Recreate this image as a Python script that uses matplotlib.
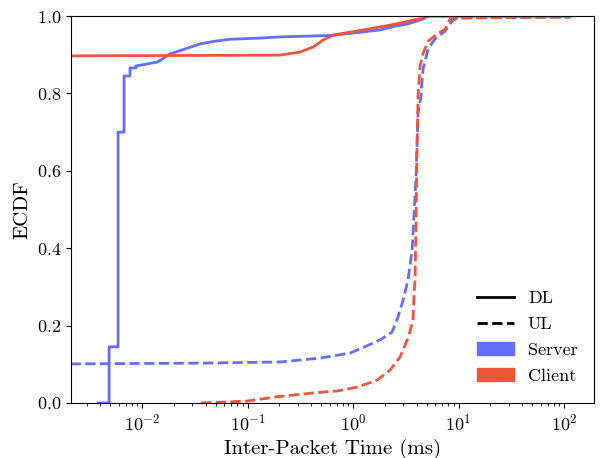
import matplotlib

matplotlib.use("Agg")
import matplotlib.pyplot as plt
from matplotlib.lines import Line2D
from matplotlib.patches import Patch

plt.rcParams["font.family"] = "serif"
plt.rcParams["font.serif"] = ["cmr10", "DejaVu Serif"]
plt.rcParams["mathtext.fontset"] = "cm"
plt.rcParams["axes.unicode_minus"] = False
plt.rcParams["axes.formatter.use_mathtext"] = True

SERVER_COLOR = "#636efa"
CLIENT_COLOR = "#ef553b"

# ECDF curves (inter-packet time in ms, cumulative fraction)
server_dl_x = [0.00383, 0.00487, 0.00487, 0.00592, 0.00592, 0.00675, 0.00675, 0.00769, 0.00769, 0.00877,
               0.00877, 0.0139, 0.0148, 0.0184, 0.0256, 0.0355, 0.0492, 0.0683, 0.131, 0.203,
               0.646, 1.244, 1.80, 2.50, 3.25, 4.61, 5.14, 114.0]
server_dl_y = [0.0, 0.0, 0.145, 0.145, 0.700, 0.700, 0.845, 0.845, 0.866, 0.866,
               0.871, 0.881, 0.885, 0.902, 0.915, 0.928, 0.935, 0.940, 0.943, 0.946,
               0.950, 0.959, 0.964, 0.974, 0.979, 0.992, 1.0, 1.0]

client_dl_x = [0.0021, 0.203, 0.315, 0.418, 0.520, 0.646, 1.244, 2.50, 4.61, 5.14, 114.0]
client_dl_y = [0.897, 0.899, 0.907, 0.920, 0.938, 0.951, 0.964, 0.979, 0.995, 1.0, 1.0]

server_ul_x = [0.0021, 0.0355, 0.203, 0.487, 0.937, 1.165, 1.80, 2.34, 2.67, 2.98,
               3.32, 3.63, 3.79, 3.96, 4.13, 4.41, 4.51, 4.61, 5.14, 5.99,
               7.45, 8.68, 9.68, 114.0]
server_ul_y = [0.101, 0.103, 0.106, 0.116, 0.129, 0.140, 0.163, 0.183, 0.222, 0.266,
               0.318, 0.395, 0.491, 0.594, 0.750, 0.793, 0.835, 0.863, 0.915, 0.941,
               0.961, 0.987, 0.995, 0.997]

client_ul_x = [0.0362, 0.0989, 0.190, 0.418, 0.705, 1.09, 1.69, 2.24, 2.79, 3.32,
               3.70, 3.79, 3.87, 3.96, 4.04, 4.13, 4.32, 4.61, 5.14, 6.25,
               7.45, 8.30, 9.27, 114.0]
client_ul_y = [0.0, 0.005, 0.016, 0.026, 0.031, 0.041, 0.059, 0.085, 0.119, 0.168,
               0.214, 0.284, 0.318, 0.490, 0.660, 0.793, 0.871, 0.904, 0.935, 0.953,
               0.966, 0.992, 0.995, 0.998]

fig = plt.figure(figsize=(6.03, 4.58), dpi=100)
ax = fig.add_axes([0.1177, 0.1201, 0.8673, 0.8449])

ax.plot(server_dl_x, server_dl_y, color=SERVER_COLOR, linewidth=2)
ax.plot(client_dl_x, client_dl_y, color=CLIENT_COLOR, linewidth=2)
ax.plot(server_ul_x, server_ul_y, color=SERVER_COLOR, linewidth=2, linestyle="--")
ax.plot(client_ul_x, client_ul_y, color=CLIENT_COLOR, linewidth=2, linestyle="--")

ax.set_xscale("log")
ax.set_xlim(0.00212, 192)
ax.set_ylim(0.0, 1.0)
ax.set_xlabel("Inter-Packet Time (ms)", fontsize=15)
ax.set_ylabel("ECDF", fontsize=15)
ax.tick_params(labelsize=13)

handles = [
    Line2D([], [], color="black", linewidth=2, label="DL"),
    Line2D([], [], color="black", linewidth=2, linestyle="--", label="UL"),
    Patch(color=SERVER_COLOR, label="Server"),
    Patch(color=CLIENT_COLOR, label="Client"),
]
ax.legend(handles=handles, loc="lower right", frameon=False, fontsize=13,
          labelspacing=0.56, bbox_to_anchor=(1.0, 0.008))

fig.savefig("out.png")
